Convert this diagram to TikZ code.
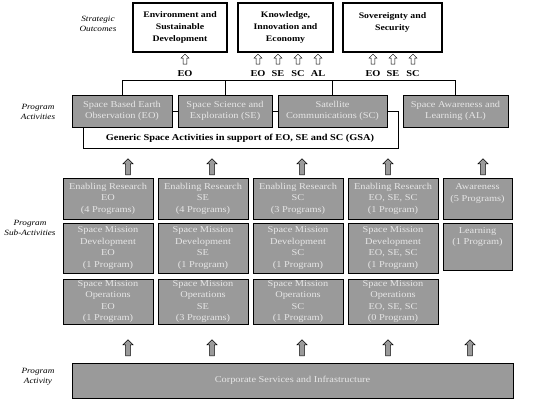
\documentclass[tikz,border=0pt]{standalone}
\usepackage{fontspec}
\setmainfont{Liberation Serif}[FakeStretch=1.15]
\usetikzlibrary{shapes.arrows,shadows}

\definecolor{boxgrey}{HTML}{9A9A9A}
\definecolor{boxtext}{HTML}{E6E6E6}

\tikzstyle{grey box}=[
    draw = black,
    fill = boxgrey,
    text = boxtext,
    align = center,
    inner sep = 1pt,
    font = \fontsize{9}{11.5}\selectfont,
    drop shadow = {shadow xshift=1.3pt, shadow yshift=-1.3pt, fill=black, opacity=1}
]
\tikzstyle{outcome box}=[
    draw = black,
    line width = 1.8pt,
    fill = white,
    align = center,
    minimum height = 49,
    font = \bfseries\fontsize{8.5}{12.3}\selectfont,
    append after command = {[draw, line width=0.5pt]
        ([xshift=2.2pt,yshift=-2.2pt]\tikzlastnode.north west) rectangle
        ([xshift=-2.2pt,yshift=2.2pt]\tikzlastnode.south east)}
]
\tikzstyle{open arrow}=[
    single arrow,
    draw = black,
    fill = white,
    thin,
    shape border rotate = 90,
    inner sep = 1.5pt,
    minimum width = 8,
    minimum height = 10,
    single arrow head extend = 2pt
]
\tikzstyle{grey arrow}=[
    single arrow,
    draw = black,
    fill = boxgrey,
    semithick,
    shape border rotate = 90,
    inner sep = 2pt,
    minimum width = 10,
    minimum height = 16,
    single arrow head extend = 2.5pt
]
\tikzstyle{side label}=[
    align = center,
    font = \itshape\fontsize{8}{10}\selectfont
]

\begin{document}
\begin{tikzpicture}[x=1pt, y=-1pt, code label/.style = {font=\bfseries\fontsize{9}{10}\selectfont}]
        \useasboundingbox (0,0) rectangle (537,407);

        % strategic outcomes
        \node[side label] (lso) at (98,24) {Strategic\\Outcomes};
        \node[outcome box, minimum width=94] (esd) at (180,27.5) {Environment and\\Sustainable\\Development};
        \node[outcome box, minimum width=95] (kie) at (285.5,27.5) {Knowledge,\\Innovation and\\Economy};
        \node[outcome box, minimum width=99] (sos) at (392.5,27.5) {Sovereignty and\\Security\\\mbox{}};

        \foreach \x/\t [count=\i] in {185/EO, 258/EO, 278/SE, 298/SC, 318/AL, 373/EO, 393/SE, 413/SC} {
            \node[open arrow] (up\i) at (\x,60) {};
            \node[code label] (code\i) at (\x,73.5) {\t};
        }

        % program activities
        \node[side label] (lpa) at (38,112) {Program\\Activities};
        \node[grey box, minimum width=100, minimum height=32] (eo) at (122,111) {Space Based Earth\\Observation (EO)};
        \node[grey box, minimum width=94, minimum height=32] (se) at (225,111) {Space Science and\\Exploration (SE)};
        \node[grey box, minimum width=109, minimum height=32] (sc) at (332.5,111) {Satellite\\Communications (SC)};
        \node[grey box, minimum width=105, minimum height=32] (al) at (455.5,111) {Space Awareness and\\Learning (AL)};

        \coordinate (bar) at (0,80);
        \draw (eo.north |- bar) -- (al.north |- bar);
        \foreach \n in {eo,se,sc,al}
            \draw (\n.north) -- (\n.north |- bar);

        \draw (eo.east) -- (se.west);
        \draw (se.east) -- (sc.west);
        \draw (sc.east) -- ++(11,0) -- ++(0,37) -| ([xshift=11pt]eo.south west);
        \node[code label] (gsa) at (240,138.5) {Generic Space Activities in support of EO, SE and SC (GSA)};

        \foreach \x [count=\i] in {128,212,302,388,483}
            \node[grey arrow] (ga\i) at (\x,168) {};

        % program sub-activities
        \node[side label] (lsa) at (30,228) {Program\\Sub-Activities};

        \node[grey box, minimum width=90, minimum height=41] (er1) at (108,198.5) {Enabling Research\\EO\\(4 Programs)};
        \node[grey box, minimum width=90, minimum height=41] (er2) at (203,198.5) {Enabling Research\\SE\\(4 Programs)};
        \node[grey box, minimum width=90, minimum height=41] (er3) at (298,198.5) {Enabling Research\\SC\\(3 Programs)};
        \node[grey box, minimum width=90, minimum height=41] (er4) at (393,198.5) {Enabling Research\\EO, SE, SC\\(1 Program)};
        \node[grey box, minimum width=69, minimum height=41] (aw) at (477.5,198.5) {Awareness\\(5 Programs)\\\mbox{}};

        \node[grey box, minimum width=90, minimum height=50] (md1) at (108,248) {Space Mission\\Development\\EO\\(1 Program)};
        \node[grey box, minimum width=90, minimum height=50] (md2) at (203,248) {Space Mission\\Development\\SE\\(1 Program)};
        \node[grey box, minimum width=90, minimum height=50] (md3) at (298,248) {Space Mission\\Development\\SC\\(1 Program)};
        \node[grey box, minimum width=90, minimum height=50] (md4) at (393,248) {Space Mission\\Development\\EO, SE, SC\\(1 Program)};
        \node[grey box, minimum width=69, minimum height=47, font=\fontsize{9}{10.8}\selectfont] (ln) at (477.5,246.5) {Learning\\(1 Program)\\\mbox{}\\\mbox{}};

        \begin{scope}[every node/.append style={font=\fontsize{9}{10}\selectfont}]
        \node[grey box, minimum width=90, minimum height=43] (mo1) at (108,301.5) {Space Mission\\Operations\\EO\\(1 Program)};
        \node[grey box, minimum width=90, minimum height=43] (mo2) at (203,301.5) {Space Mission\\Operations\\SE\\(3 Programs)};
        \node[grey box, minimum width=90, minimum height=43] (mo3) at (298,301.5) {Space Mission\\Operations\\SC\\(1 Program)};
        \node[grey box, minimum width=90, minimum height=43] (mo4) at (393,301.5) {Space Mission\\Operations\\EO, SE, SC\\(0 Program)};
        \end{scope}

        \foreach \x [count=\i] in {128,212,302,388,470}
            \node[grey arrow] (gb\i) at (\x,349) {};

        % program activity
        \node[side label] (lpr) at (38,377) {Program\\Activity};
        \node[grey box, minimum width=441, minimum height=35] (csi) at (292.5,380.5) {Corporate Services and Infrastructure};

    \end{tikzpicture}
\end{document}
